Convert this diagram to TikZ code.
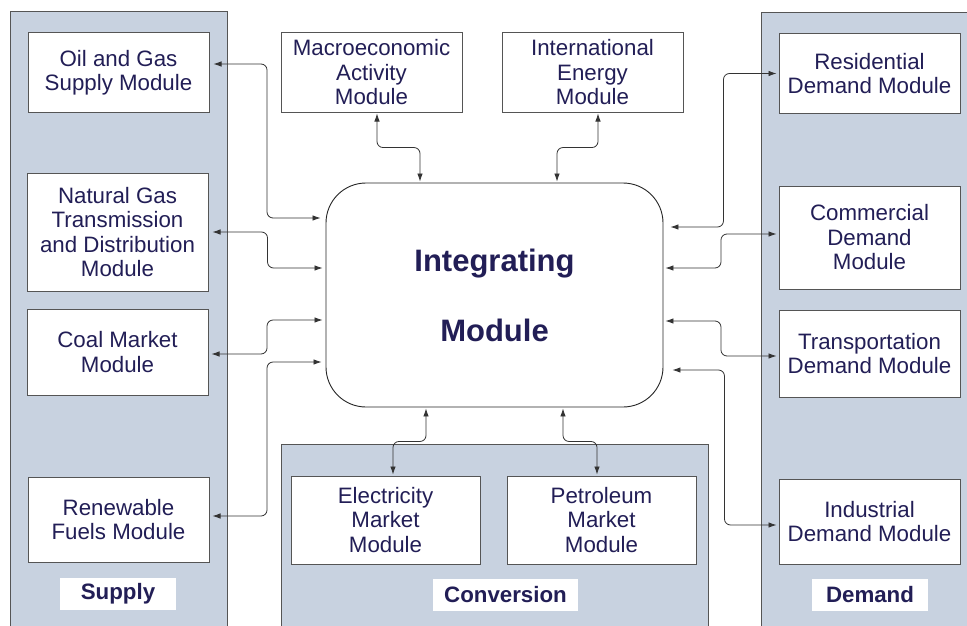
\documentclass[tikz,border=0pt]{standalone}
\usepackage{fontspec}
\setmainfont{Liberation Sans}
\usetikzlibrary{calc,arrows.meta}
\definecolor{panelfill}{RGB}{200,210,224}
\definecolor{edgegray}{RGB}{85,85,85}
\definecolor{txtnavy}{RGB}{34,30,86}
\begin{document}
\begin{tikzpicture}[x=1pt,y=-1pt,
  panelbg/.style={fill=panelfill},
  paneledge/.style={draw=edgegray,line width=1pt},
  modbox/.style={draw=edgegray,fill=white,line width=1pt,inner sep=0pt,
    minimum width=181pt,align=center,text=txtnavy,
    font=\fontsize{22.3}{24.5}\selectfont},
  tagbox/.style={fill=white,inner sep=0pt,minimum width=116pt,minimum height=32pt,
    text=txtnavy,font=\fontsize{22.3}{24}\selectfont\bfseries},
  integbox/.style={draw=black!85,fill=white,line width=0.9pt,rounded corners=40pt,
    minimum width=337pt,minimum height=224pt,align=center,text=txtnavy,
    font=\fontsize{31}{70}\selectfont\bfseries},
  link/.style={draw=black!80,line width=0.8pt,rounded corners=6pt,
    {Latex[length=8pt,width=5.5pt]}-{Latex[length=8pt,width=5.5pt]}}
]
\useasboundingbox (0,0) rectangle (967,626);
\clip (0,0) rectangle (967,626);
\fill[white] (0,0) rectangle (967,626);
% panels
\fill[panelbg] (10,12) rectangle (227,630);
\draw[paneledge] (10,630) -- (10,12) -- (227,12) -- (227,630);
\fill[panelbg] (761,13) rectangle (975,630);
\draw[paneledge] (975,13) -- (761,13) -- (761,630);
\fill[panelbg] (281,444) rectangle (708,630);
\draw[paneledge] (281,630) -- (281,444) -- (708,444) -- (708,630);
% modules
\node[modbox,minimum height=79pt]  (og)   at (118.5,72.5) {Oil and Gas\\Supply Module};
\node[modbox,minimum height=118pt] (ngt)  at (117.5,232)  {Natural Gas\\Transmission\\and Distribution\\Module};
\node[modbox,minimum height=86pt]  (coal) at (117.5,352)  {Coal Market\\Module};
\node[modbox,minimum height=85pt]  (ren)  at (118.5,519.5){Renewable\\Fuels Module};
\node[modbox,minimum height=79pt]  (mac)  at (371.5,72.5) {Macroeconomic\\Activity\\Module};
\node[modbox,minimum height=79pt]  (intl) at (592.5,72.5) {International\\Energy\\Module};
\node[modbox,minimum height=79pt]  (res)  at (869.5,73.5) {Residential\\Demand Module};
\node[modbox,minimum height=103pt] (com)  at (869.5,237.5){Commercial\\Demand\\Module};
\node[modbox,minimum height=87pt]  (tra)  at (869.5,353.5){Transportation\\Demand Module};
\node[modbox,minimum height=85pt]  (ind)  at (869.5,521.5){Industrial\\Demand Module};
\node[modbox,minimum width=189pt,minimum height=88pt] (ele) at (385.5,520) {Electricity\\Market\\Module};
\node[modbox,minimum width=189pt,minimum height=88pt] (pet) at (601.5,520) {Petroleum\\Market\\Module};
\node[integbox] (integ) at (494.5,295) {Integrating\\Module};
% panel labels
\node[tagbox] (lsup) at (118,594) {Supply};
\node[tagbox,minimum width=145pt] (lconv) at (505.5,595) {Conversion};
\node[tagbox] (ldem) at (870,595) {Demand};
% anchor points
\coordinate (a1) at ([shift={(4,-8.5)}]og.east);
\coordinate (b1) at ([shift={(-5,-77)}]integ.west);
\coordinate (a2) at ([shift={(4,0)}]ngt.east);
\coordinate (b2) at ([shift={(-3,-27)}]integ.west);
\coordinate (a3) at ([shift={(3,2)}]coal.east);
\coordinate (b3) at ([shift={(-3,25)}]integ.west);
\coordinate (a4) at ([shift={(3,-3.5)}]ren.east);
\coordinate (b4) at ([shift={(-4,67)}]integ.west);
\coordinate (a5) at ([shift={(7,-68)}]integ.east);
\coordinate (b5) at ([shift={(-2,0)}]res.west);
\coordinate (a6) at ([shift={(2,-27)}]integ.east);
\coordinate (b6) at ([shift={(-2,-3.5)}]com.west);
\coordinate (a7) at ([shift={(2,26)}]integ.east);
\coordinate (b7) at ([shift={(-2,2.5)}]tra.west);
\coordinate (a8) at ([shift={(9,75)}]integ.east);
\coordinate (b8) at ([shift={(-2,3.5)}]ind.west);
\coordinate (a9) at ([shift={(5.5,1)}]mac.south);
\coordinate (b9) at ([shift={(-74.5,-1)}]integ.north);
\coordinate (a10) at ([shift={(5.5,1)}]intl.south);
\coordinate (b10) at ([shift={(62.5,-1)}]integ.north);
\coordinate (a11) at ([shift={(-68.5,1)}]integ.south);
\coordinate (b11) at ([shift={(7.5,-1)}]ele.north);
\coordinate (a12) at ([shift={(68.5,1)}]integ.south);
\coordinate (b12) at ([shift={(-4.5,-1)}]pet.north);
% connectors
\foreach \i in {1,...,8}{
  \draw[link] (a\i) -| ($(a\i)!0.5!(b\i)$) |- (b\i);
}
\foreach \i in {9,...,12}{
  \draw[link] (a\i) |- ($(a\i)!0.5!(b\i)$) -| (b\i);
}
\end{tikzpicture}
\end{document}
